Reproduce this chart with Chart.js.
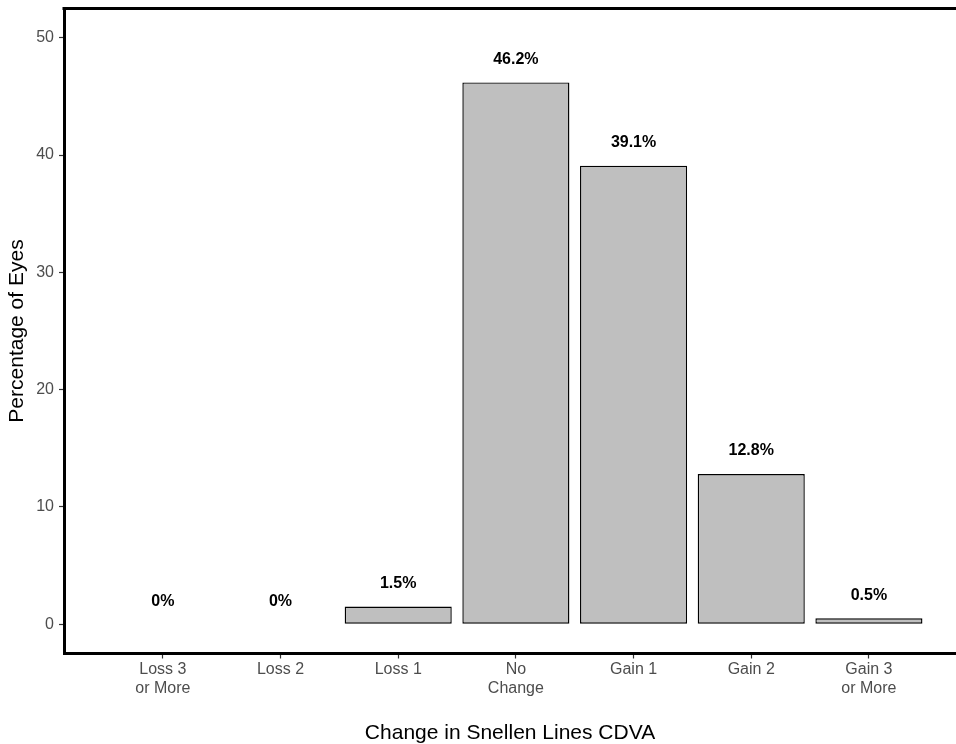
<!DOCTYPE html>
<html>
<head>
<meta charset="utf-8">
<script src="https://cdn.jsdelivr.net/npm/chart.js@4"></script>
<style>
html,body{margin:0;padding:0;background:#fff;overflow:hidden;}
#wrap{width:956px;height:744px;}
</style>
</head>
<body>
<div id="wrap"><canvas id="c" width="956" height="744"></canvas></div>
<script>
const categories = [["Loss 3","or More"],["Loss 2"],["Loss 1"],["No","Change"],["Gain 1"],["Gain 2"],["Gain 3","or More"]];
const percentages = [0, 0, 1.5, 46.2, 39.1, 12.8, 0.5];
const valueLabels = ["0%", "0%", "1.5%", "46.2%", "39.1%", "12.8%", "0.5%"];
const yTicks = [0, 10, 20, 30, 40, 50];
const xTitle = "Change in Snellen Lines CDVA";
const yTitle = "Percentage of Eyes";

const FONT = "'Liberation Sans', Arial, sans-serif";

const valueLabelPlugin = {
  id: 'valueLabels',
  afterDatasetsDraw(chart) {
    const ctx = chart.ctx;
    const xs = chart.scales.x, ys = chart.scales.y;
    ctx.save();
    ctx.font = "bold 16px " + FONT;
    ctx.fillStyle = "#000";
    ctx.textAlign = "center";
    ctx.textBaseline = "middle";
    percentages.forEach((v, i) => {
      const x = xs.getPixelForValue(i + 1);
      const y = ys.getPixelForValue(v) - 23;
      ctx.fillText(valueLabels[i], x, y);
    });
    ctx.restore();
  }
};

const topBorderPlugin = {
  id: 'topBorder',
  afterDraw(chart) {
    const ctx = chart.ctx;
    const a = chart.chartArea;
    ctx.save();
    ctx.strokeStyle = "#000";
    ctx.lineWidth = 3;
    ctx.beginPath();
    ctx.moveTo(a.left - 1.5, a.top);
    ctx.lineTo(chart.width, a.top);
    ctx.stroke();
    ctx.restore();
  }
};

new Chart(document.getElementById('c'), {
  type: 'bar',
  data: {
    datasets: [{
      data: percentages.map((v, i) => ({x: i + 1, y: v})),
      backgroundColor: '#bfbfbf',
      borderColor: '#000',
      borderWidth: ctx => (percentages[ctx.dataIndex] === 0 ? 0 : 1.4),
      borderSkipped: false,
      barPercentage: 0.91,
      categoryPercentage: 1.0
    }]
  },
  options: {
    responsive: false,
    devicePixelRatio: 1,
    animation: false,
    layout: {padding: {top: 8.5, right: 0, left: 0, bottom: 0}},
    plugins: {legend: {display: false}, tooltip: {enabled: false}},
    scales: {
      x: {
        type: 'linear',
        offset: false,
        min: 0.16,
        max: 7.74,
        afterBuildTicks: s => { s.ticks = categories.map((c, i) => ({value: i + 1})); },
        afterFit: s => { s.height = 90.5; s.paddingLeft = 0; s.paddingRight = 0; },
        ticks: {
          autoSkip: false,
          maxRotation: 0,
          color: '#4d4d4d',
          font: {family: FONT, size: 16, lineHeight: 1.15},
          padding: 2,
          callback: (v) => categories[Math.round(v) - 1] || ''
        },
        grid: {display: true, offset: false, drawOnChartArea: false, drawTicks: true, tickLength: 5, tickColor: '#333', tickWidth: 1.2},
        border: {display: true, color: '#000', width: 3},
        title: {display: true, text: xTitle, color: '#000', font: {family: FONT, size: 21}, padding: {top: 0, bottom: -2}}
      },
      y: {
        type: 'linear',
        min: -2.5,
        max: 52.5,
        afterBuildTicks: s => { s.ticks = yTicks.map(v => ({value: v})); },
        afterFit: s => { s.width = 64; s.paddingTop = 0; s.paddingBottom = 0; },
        ticks: {
          color: '#4d4d4d',
          font: {family: FONT, size: 16},
          padding: 5,
          callback: v => String(v)
        },
        grid: {display: true, offset: false, drawOnChartArea: false, drawTicks: true, tickLength: 5, tickColor: '#333', tickWidth: 1.2},
        border: {display: true, color: '#000', width: 3},
        title: {display: true, text: yTitle, color: '#000', font: {family: FONT, size: 21}, padding: {top: 5, bottom: 0}}
      }
    }
  },
  plugins: [valueLabelPlugin, topBorderPlugin]
});
</script>
</body>
</html>
